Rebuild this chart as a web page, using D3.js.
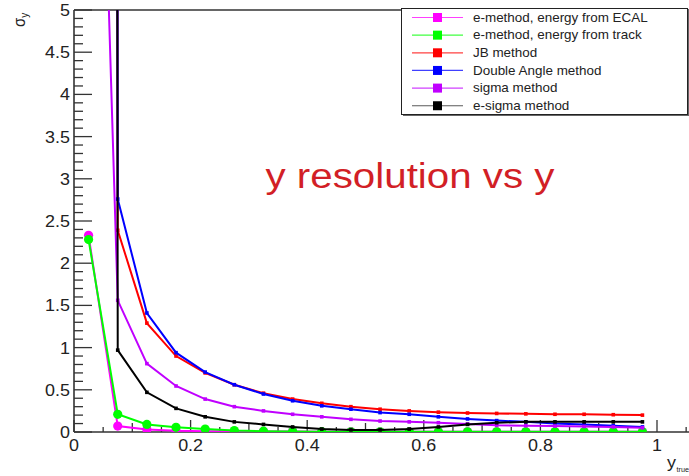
<!DOCTYPE html>
<html>
<head>
<meta charset="utf-8">
<script src="https://cdn.jsdelivr.net/npm/d3@7"></script>
<style>
  body { margin: 0; background: #fff; }
  svg { display: block; font-family: "Liberation Sans", Arial, sans-serif; }
</style>
</head>
<body>
<div id="chart"></div>
<script>
(() => {
    // bin centres of y_true
    const yTrue = [0.025, 0.075, 0.125, 0.175, 0.225, 0.275, 0.325, 0.375, 0.425, 0.475,
                   0.525, 0.575, 0.625, 0.675, 0.725, 0.775, 0.825, 0.875, 0.925, 0.975];

    // sigma_y per method (first bin of JB / DA / e-sigma is far off scale)
    const eEcal   = [2.33, 0.07, 0.03, 0.015, 0.01, 0.008, 0.006, 0.005, 0.004, 0.004,
                     0.003, 0.003, 0.003, 0.003, 0.003, 0.003, 0.003, 0.003, 0.003, 0.003];
    const eTrack  = [2.28, 0.21, 0.09, 0.055, 0.035, 0.018, 0.01, 0.006, 0.004, 0.003,
                     0.002, 0.002, 0.002, 0.002, 0.002, 0.002, 0.002, 0.002, 0.002, 0.002];
    const jb      = [300, 2.39, 1.29, 0.90, 0.70, 0.56, 0.46, 0.39, 0.34, 0.30,
                     0.27, 0.25, 0.235, 0.225, 0.22, 0.215, 0.21, 0.21, 0.205, 0.20];
    const da      = [300, 2.76, 1.41, 0.94, 0.71, 0.56, 0.45, 0.37, 0.31, 0.27,
                     0.23, 0.21, 0.18, 0.155, 0.135, 0.12, 0.10, 0.09, 0.075, 0.06];
    const sigma   = [12.9, 1.56, 0.81, 0.545, 0.39, 0.30, 0.25, 0.21, 0.18, 0.15,
                     0.13, 0.12, 0.11, 0.095, 0.08, 0.075, 0.07, 0.065, 0.06, 0.05];
    const eSigma  = [300, 0.97, 0.47, 0.28, 0.18, 0.12, 0.09, 0.06, 0.035, 0.025,
                     0.025, 0.035, 0.06, 0.09, 0.11, 0.12, 0.12, 0.12, 0.12, 0.12];

    const seriesNames = ["e-method, energy from ECAL", "e-method, energy from track", "JB method",
                         "Double Angle method", "sigma method", "e-sigma method"];
    const seriesValues = [eEcal, eTrack, jb, da, sigma, eSigma];
    const seriesColors = ["#ff00ff", "#00ff00", "#ff0000", "#0000ff", "#c000ff", "#000000"];
    const bigMarker = [true, true, false, false, false, false];

    const xTickLabels = [0, 0.2, 0.4, 0.6, 0.8, 1];
    const yTickLabels = [0, 0.5, 1, 1.5, 2, 2.5, 3, 3.5, 4, 4.5, 5];

    const width = 689;
    const height = 476;
    const SX = 1.12; // picture is a bit wider than tall

    const svg = d3.select("#chart").append("svg")
        .attr("width", width)
        .attr("height", height);

    const x = d3.scaleLinear().domain([0, 1]).range([74, 657]);
    const y = d3.scaleLinear().domain([0, 5]).range([432, 10]);

    function label(parent, px, py, str, size, anchor, fill) {
        const g = parent.append("g").attr("transform", `translate(${px},${py}) scale(${SX},1)`);
        return g.append("text")
            .attr("text-anchor", anchor)
            .attr("font-size", size)
            .attr("fill", fill || "#222")
            .text(str);
    }

    /******************** frame + axes ********************/
    const axisColor = "#333";
    svg.append("line").attr("x1", 74).attr("x2", width).attr("y1", 10).attr("y2", 10)
        .attr("stroke", axisColor).attr("stroke-width", 1.4);
    svg.append("line").attr("x1", 74).attr("x2", width).attr("y1", 432).attr("y2", 432)
        .attr("stroke", axisColor).attr("stroke-width", 1.6);
    svg.append("line").attr("x1", 74).attr("x2", 74).attr("y1", 10).attr("y2", 432)
        .attr("stroke", axisColor).attr("stroke-width", 1.6);

    // x ticks every 0.05, bigger on 0.1 and 0.2
    const xTicks = d3.range(0, 23).map(i => i * 0.05);
    svg.selectAll(".xtick")
        .data(xTicks)
        .join("line")
        .attr("class", "xtick")
        .attr("x1", d => x(d)).attr("x2", d => x(d))
        .attr("y1", 432)
        .attr("y2", (d, i) => 432 - (i % 4 === 0 ? 12 : i % 2 === 0 ? 9 : 5))
        .attr("stroke", axisColor).attr("stroke-width", 1.3);

    // y ticks every 0.1, major every 0.5
    const yTicks = d3.range(0, 51).map(i => i * 0.1);
    svg.selectAll(".ytick")
        .data(yTicks)
        .join("line")
        .attr("class", "ytick")
        .attr("x1", 74)
        .attr("x2", (d, i) => 74 + (i % 5 === 0 ? 18 : 9))
        .attr("y1", d => y(d)).attr("y2", d => y(d))
        .attr("stroke", axisColor).attr("stroke-width", 1.3);

    xTickLabels.forEach(t => label(svg, x(t), 451, String(t), 16, "middle"));
    yTickLabels.forEach(t => label(svg, 70, y(t) + 6, String(t), 16, "end"));

    // axis titles
    const yt = svg.append("g").attr("transform", "translate(25,27) rotate(-90) scale(1,1.12)")
        .append("text").attr("font-size", 15).attr("fill", "#222");
    yt.append("tspan").text("σ");
    yt.append("tspan").attr("font-size", 10).attr("dy", 3).text("y");

    const xt = svg.append("g").attr("transform", `translate(667,468) scale(${SX},1)`)
        .append("text").attr("font-size", 16).attr("fill", "#222");
    xt.append("tspan").text("y");
    xt.append("tspan").attr("font-size", 6.5).attr("dy", 4).attr("dx", 0.5).text("true");

    /******************** data ********************/
    svg.append("clipPath").attr("id", "plotclip")
        .append("rect").attr("x", 74).attr("y", 10).attr("width", width - 74).attr("height", 422);

    const plot = svg.append("g").attr("clip-path", "url(#plotclip)");

    const line = d3.line()
        .x(d => x(d[0]))
        .y(d => y(d[1]));

    seriesValues.forEach((vals, s) => {
        const pts = yTrue.map((t, i) => [t, vals[i]]);
        const g = plot.append("g");
        g.append("path")
            .attr("d", line(pts))
            .attr("fill", "none")
            .attr("stroke", seriesColors[s])
            .attr("stroke-width", 2);
        if (bigMarker[s]) {
            g.selectAll("circle")
                .data(pts)
                .join("circle")
                .attr("cx", d => x(d[0]))
                .attr("cy", d => y(d[1]))
                .attr("r", 4.6)
                .attr("fill", seriesColors[s]);
        } else {
            g.selectAll("rect")
                .data(pts)
                .join("rect")
                .attr("x", d => x(d[0]) - 1.8)
                .attr("y", d => y(d[1]) - 1.8)
                .attr("width", 3.6)
                .attr("height", 3.6)
                .attr("fill", seriesColors[s]);
        }
    });

    /******************** title ********************/
    label(svg, 410, 188, "y resolution vs y", 36, "middle", "#d21f26");

    /******************** legend ********************/
    const legend = svg.append("g");
    legend.append("rect")
        .attr("x", 403).attr("y", 10).attr("width", 286).attr("height", 106)
        .attr("fill", "#666");
    legend.append("rect")
        .attr("x", 401.5).attr("y", 8.5).attr("width", 286).attr("height", 106)
        .attr("fill", "#fff").attr("stroke", "#222").attr("stroke-width", 1);

    seriesNames.forEach((name, s) => {
        const cy = 17.5 + s * 17.65;
        legend.append("line")
            .attr("x1", 412).attr("x2", 463)
            .attr("y1", cy).attr("y2", cy)
            .attr("stroke", seriesColors[s])
            .attr("stroke-opacity", s === 5 ? 0.65 : 0.75)
            .attr("stroke-width", 1.2);
        legend.append("rect")
            .attr("x", 433).attr("y", cy - 4.5)
            .attr("width", 9).attr("height", 9)
            .attr("fill", seriesColors[s]);
        label(legend, 473, cy + 4.3, name, 12, "start", "#222");
    });
})()
</script>
</body>
</html>
